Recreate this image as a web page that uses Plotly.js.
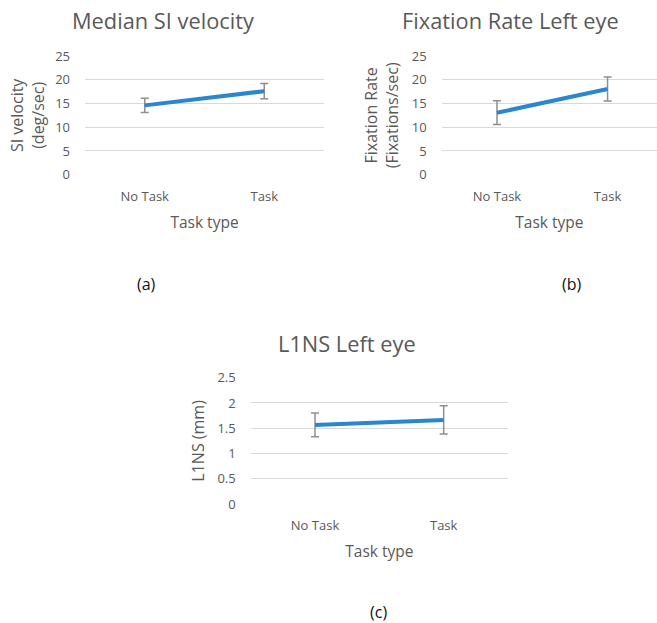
<!DOCTYPE html>
<html>
<head>
<meta charset="utf-8">
<script src="https://cdn.plot.ly/plotly-3.0.1.min.js"></script>
<style>
html,body{margin:0;padding:0;background:#fff;}
#chart{width:657px;height:623px;}
</style>
</head>
<body>
<div id="chart"></div>
<script>
// ---- data ----
var categories = ["No Task", "Task"];

var siVelocity = [14.6, 17.6];
var siVelocityErr = [1.5, 1.6];

var fixationRate = [13.05, 18.05];
var fixationRateErr = [2.5, 2.55];

var l1ns = [1.565, 1.665];
var l1nsErr = [0.235, 0.28];

var panelTitles = ["Median SI velocity", "Fixation Rate Left eye", "L1NS Left eye"];
var yTitles = ["SI velocity<br>(deg/sec)", "Fixation Rate<br>(Fixations/sec)", "L1NS (mm)"];
var xTitle = "Task type";
var panelLabels = ["(a)", "(b)", "(c)"];

// ---- styling ----
var W = 657, H = 623;
var FONT = "Open Sans, sans-serif";
var TXT = "#595959";
var LINE = "#2B86D0";
var ERR = "#8f8f8f";
var GRID = "#d9d9d9";

function px(x){ return x / W; }
function py(y){ return 1 - y / H; }

function trace(vals, errs, xa, ya){
  return {
    type: "scatter", mode: "lines",
    x: categories, y: vals,
    xaxis: xa, yaxis: ya,
    line: {color: LINE, width: 4},
    error_y: {type: "data", array: errs, visible: true, color: ERR, thickness: 1.5, width: 4},
    hoverinfo: "x+y", showlegend: false
  };
}

var data = [
  trace(siVelocity, siVelocityErr, "x", "y"),
  trace(fixationRate, fixationRateErr, "x2", "y2"),
  trace(l1ns, l1nsErr, "x3", "y3")
];

function xaxis(dom, range){
  return {
    domain: dom, type: "category", range: range,
    showgrid: false, zeroline: false, showline: false, ticks: "",
    ticklabelstandoff: 12,
    tickfont: {family: FONT, size: 13, color: TXT},
    title: {text: xTitle, font: {family: FONT, size: 15.5, color: TXT}, standoff: 13},
    fixedrange: true
  };
}
function yaxis(dom, range, dtick, anchor, title, standoff){
  return {
    domain: dom, range: range, dtick: dtick, anchor: anchor,
    showgrid: true, gridcolor: GRID, gridwidth: 1,
    zeroline: false, showline: false, ticks: "",
    ticklabelstandoff: 14,
    tickfont: {family: FONT, size: 13, color: TXT},
    title: {text: title, font: {family: FONT, size: 16, color: TXT}, standoff: standoff},
    fixedrange: true
  };
}

var yDomTop = [py(174.7), py(56)];
var yDomBot = [py(504), py(377.7)];

var layout = {
  width: W, height: H,
  margin: {l: 0, r: 0, t: 0, b: 0},
  paper_bgcolor: "#ffffff", plot_bgcolor: "#ffffff",
  showlegend: false,
  xaxis: Object.assign(xaxis([px(85), px(324)], [-0.5, 1.5]), {anchor: "y"}),
  yaxis: yaxis(yDomTop, [0, 25], 5, "x", yTitles[0], 6),
  xaxis2: Object.assign(xaxis([px(441.7), 1], [-0.5, 1.447]), {anchor: "y2"}),
  yaxis2: yaxis(yDomTop, [0, 25], 5, "x2", yTitles[1], 9),
  xaxis3: Object.assign(xaxis([px(250.7), px(508)], [-0.5, 1.5]), {anchor: "y3"}),
  yaxis3: yaxis(yDomBot, [0, 2.5], 0.5, "x3", yTitles[2], 8),
  annotations: [
    {text: panelTitles[0], x: px(163), y: py(21), xref: "paper", yref: "paper", showarrow: false,
     xanchor: "center", yanchor: "middle", font: {family: FONT, size: 21.8, color: TXT}},
    {text: panelTitles[1], x: px(510), y: py(21), xref: "paper", yref: "paper", showarrow: false,
     xanchor: "center", yanchor: "middle", font: {family: FONT, size: 21.8, color: TXT}},
    {text: panelTitles[2], x: px(347), y: py(343), xref: "paper", yref: "paper", showarrow: false,
     xanchor: "center", yanchor: "middle", font: {family: FONT, size: 21.8, color: TXT}},
    {text: panelLabels[0], x: px(146), y: py(284), xref: "paper", yref: "paper", showarrow: false,
     xanchor: "center", yanchor: "middle", font: {family: FONT, size: 16, color: "#111"}},
    {text: panelLabels[1], x: px(572), y: py(284), xref: "paper", yref: "paper", showarrow: false,
     xanchor: "center", yanchor: "middle", font: {family: FONT, size: 16, color: "#111"}},
    {text: panelLabels[2], x: px(378), y: py(612), xref: "paper", yref: "paper", showarrow: false,
     xanchor: "center", yanchor: "middle", font: {family: FONT, size: 16, color: "#111"}}
  ]
};

Plotly.newPlot("chart", data, layout, {displayModeBar: false, staticPlot: true});
</script>
</body>
</html>
